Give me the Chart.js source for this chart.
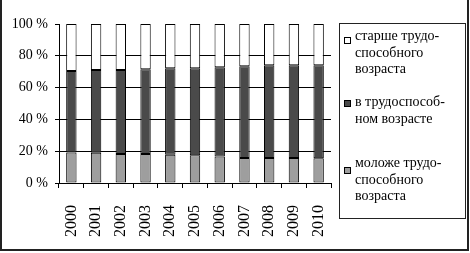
<!DOCTYPE html>
<html lang="ru">
<head>
<meta charset="utf-8">
<script src="https://cdn.jsdelivr.net/npm/chart.js@4/dist/chart.umd.min.js"></script>
<style>
  html, body { margin:0; padding:0; background:#fff; }
  #wrap { position:relative; width:470px; height:253px; font-family:"Liberation Serif","DejaVu Serif",serif; }
  #chart { position:absolute; left:0; top:0; }
  #frame { position:absolute; left:0; top:0; width:469px; height:251px; box-sizing:border-box;
           border-left:2px solid #222; border-right:2px solid #222; border-bottom:2px solid #222; pointer-events:none; }
  #legend { position:absolute; left:339px; top:23px; width:127px; height:196px; box-sizing:border-box; border:1px solid #222; }
  .lg-item { position:absolute; left:15px; font-size:14px; line-height:16.5px; color:#000; white-space:nowrap; }
  .lg-box { position:absolute; left:4px; width:7px; height:7px; box-sizing:border-box; border:1px solid #000; }
</style>
</head>
<body>
<div id="wrap">
  <canvas id="chart" width="470" height="253"></canvas>
  <div id="frame"></div>
  <div id="legend"></div>
</div>
<script>
// данные — доли возрастных групп, %
const years   = ['2000','2001','2002','2003','2004','2005','2006','2007','2008','2009','2010'];
const molozhe = [19.2, 19.0, 18.3, 18.2, 17.8, 17.4, 16.6, 15.8, 15.7, 15.7, 15.6];
const trudosp = [51.2, 52.1, 52.7, 53.4, 54.3, 54.7, 56.2, 57.6, 58.3, 58.3, 58.4];
const starshe = [29.6, 28.9, 29.0, 28.4, 27.9, 27.9, 27.2, 26.6, 26.0, 26.0, 26.0];
const yTicks  = [0, 20, 40, 60, 80, 100];

const legendItems = [
  { lines:['старше трудо-','способного','возраста'], color:'#ffffff', top:4,  box:13 },
  { lines:['в трудоспособ-','ном возрасте'],          color:'#4a4a4a', top:70, box:76 },
  { lines:['моложе трудо-','способного','возраста'],  color:'#9e9e9e', top:131, box:143 }
];

// легенда — HTML
const lg = document.getElementById('legend');
legendItems.forEach(it => {
  lg.innerHTML += `<div class="lg-box" style="top:${it.box}px;background:${it.color}"></div>
    <div class="lg-item" style="top:${it.top}px">${it.lines.join('<br>')}</div>`;
});

const serif = 'Liberation Serif';
new Chart(document.getElementById('chart'), {
  type:'bar',
  data:{
    labels: years,
    datasets:[
      {label:'моложе трудоспособного возраста', data:molozhe, backgroundColor:'#9e9e9e'},
      {label:'в трудоспособном возрасте',       data:trudosp, backgroundColor:'#4a4a4a'},
      {label:'старше трудоспособного возраста', data:starshe, backgroundColor:'#ffffff'}
    ].map(d => Object.assign(d, {borderColor:'#000', borderWidth:1, borderSkipped:false, inflateAmount:0, barPercentage:0.42, categoryPercentage:1}))
  },
  options:{
    responsive:false, animation:false,
    layout:{padding:{left:0, right:139, top:24, bottom:0}},
    plugins:{legend:{display:false}, tooltip:{enabled:false}},
    scales:{
      x:{
        stacked:true,
        afterFit: s => { s.height = 70; },
        grid:{drawOnChartArea:false, drawTicks:true, tickLength:5, tickColor:'#000', offset:true},
        border:{color:'#000', width:1},
        ticks:{minRotation:90, maxRotation:90, padding:17, color:'#000', font:{family:serif, size:16}}
      },
      y:{
        stacked:true, min:0, max:100,
        afterFit: s => { s.width = 59; },
        afterBuildTicks: s => { s.ticks = yTicks.map(v => ({value:v})); },
        grid:{color: c => c.tick && c.tick.value === 100 ? 'rgba(0,0,0,0)' : '#000', tickColor:'#000', tickLength:4, lineWidth:1},
        border:{color:'#000', width:1},
        ticks:{padding:7, color:'#000', font:{family:serif, size:14}, callback: v => v + ' %'}
      }
    }
  }
});
</script>
</body>
</html>
